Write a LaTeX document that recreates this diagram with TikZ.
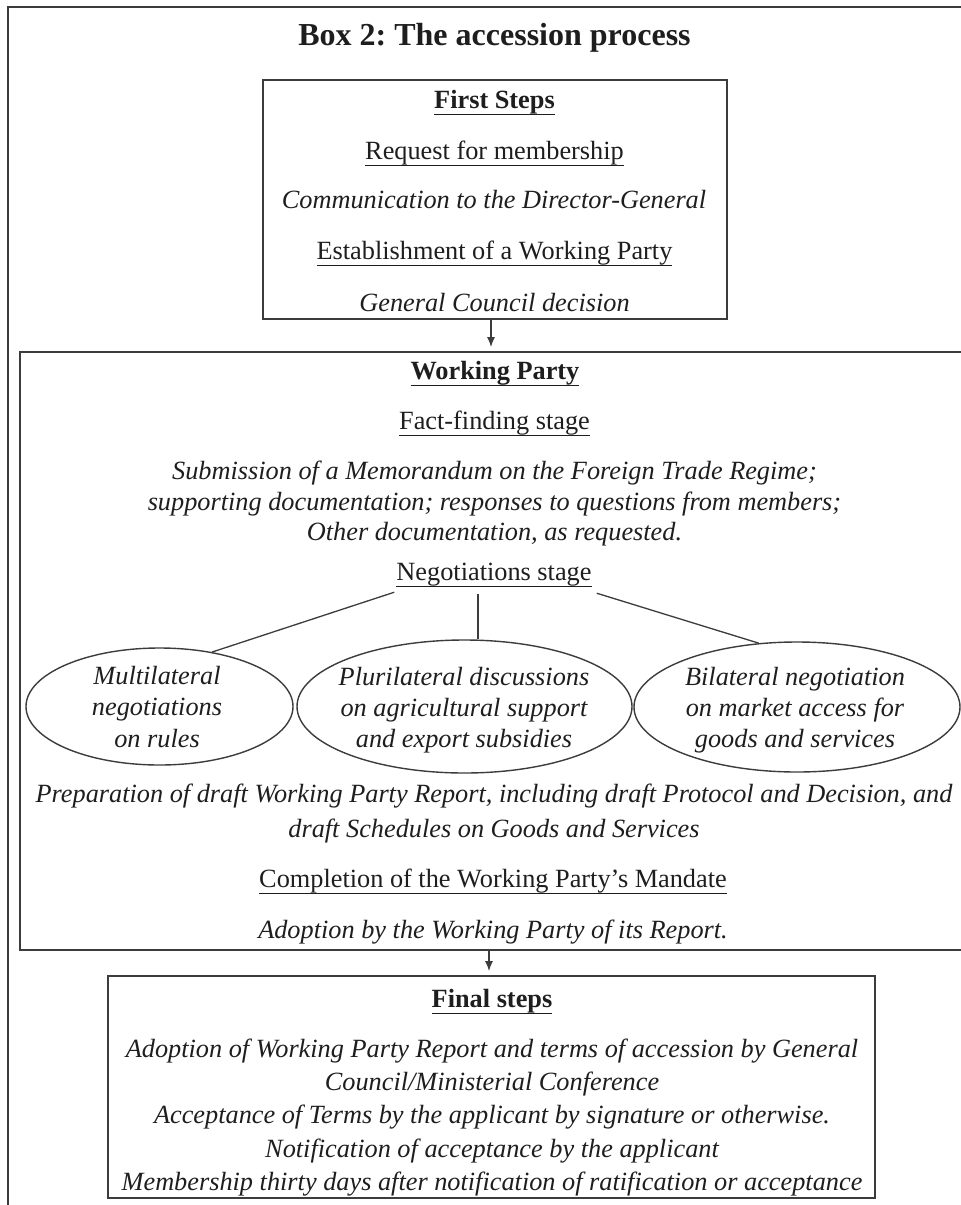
\documentclass[tikz,border=0pt]{standalone}
\usepackage{fontspec}
\setmainfont{Liberation Serif}
\usetikzlibrary{shapes.geometric,arrows.meta}
\frenchspacing
\newcommand\myul[1]{\setbox0=\hbox{#1}\rlap{\rule[-7pt]{\wd0}{1.3pt}}\box0}
\definecolor{txtc}{HTML}{1E1E1E}
\definecolor{linec}{HTML}{3C3C3C}
\tikzset{
  boxline/.style={draw=linec, line width=1.8pt, rectangle, inner sep=0pt},
  ell/.style={draw=linec, line width=1.4pt, ellipse, inner sep=0pt},
  tl/.style={anchor=base, inner sep=0pt, text=txtc, font=\fontsize{26.3}{31}\selectfont},
  it/.style={tl, font=\fontsize{26.3}{31}\selectfont\itshape},
  bf/.style={tl, font=\fontsize{26.3}{31}\selectfont\bfseries},
  ttl/.style={tl, font=\fontsize{32}{36}\selectfont\bfseries},
  conn/.style={draw=linec, line width=1.3pt},
  arr/.style={draw=linec, line width=1.4pt, -{Latex[length=10pt,width=8pt]}, shorten >=4pt}
}
\begin{document}
\begin{tikzpicture}[x=1pt,y=-1pt]
\clip (0,0) rectangle (961,1205);
\fill[white] (0,0) rectangle (961,1205);
% outer frame
\node[boxline, minimum width=1000pt, minimum height=1250pt] (frame) at (508,632) {};
% title
\node[ttl] (title) at (494.5,45) {Box 2: The accession process};
% first steps box
\node[boxline, minimum width=464pt, minimum height=239pt] (fs) at (495,199.5) {};
\node[bf] (fs1) at (494.5,108) {\myul{First Steps}};
\node[tl] (fs2) at (494.5,159) {\myul{Request for membership}};
\node[it] (fs3) at (494,208) {Communication to the Director-General};
\node[tl] (fs4) at (494.5,259) {\myul{Establishment of a Working Party}};
\node[it] (fs5) at (494.5,311) {General Council decision};
% working party box
\node[boxline, minimum width=980pt, minimum height=598pt] (wp) at (510,651) {};
\node[bf] (wp1) at (495,379) {\myul{Working Party}};
\node[tl] (wp2) at (494.5,429) {\myul{Fact-finding stage}};
\node[it] (wp3) at (494.5,479) {Submission of a Memorandum on the Foreign Trade Regime;};
\node[it] (wp4) at (494.5,510) {supporting documentation; responses to questions from members;};
\node[it] (wp5) at (494.5,540) {Other documentation, as requested.};
\node[tl] (neg) at (494,580) {\myul{Negotiations stage}};
% ellipses
\node[ell, minimum width=267pt, minimum height=117pt] (e1) at (159.5,706.5) {};
\node[ell, minimum width=335pt, minimum height=133pt] (e2) at (464.5,706.5) {};
\node[ell, minimum width=326pt, minimum height=130pt] (e3) at (797,707) {};
\node[it] (e1a) at (157,684) {Multilateral};
\node[it] (e1b) at (157,715) {negotiations};
\node[it] (e1c) at (157,747) {on rules};
\node[it] (e2a) at (464,685) {Plurilateral discussions};
\node[it] (e2b) at (464,716) {on agricultural support};
\node[it] (e2c) at (464,747) {and export subsidies};
\node[it] (e3a) at (795,685) {Bilateral negotiation};
\node[it] (e3b) at (795,716) {on market access for};
\node[it] (e3c) at (795,747) {goods and services};
% connectors from negotiations stage
\draw[conn] ([xshift=-2pt,yshift=-5pt]neg.south west) -- (e1.46);
\draw[conn] ([xshift=5pt,yshift=-6pt]neg.south east) -- (e3.121);
\draw[conn] ([xshift=-16pt,yshift=-7pt]neg.south) coordinate (ms) -- (ms |- e2.north);
\node[it] (wp6) at (494,802) {Preparation of draft Working Party Report, including draft Protocol and Decision, and};
\node[it] (wp7) at (494,837) {draft Schedules on Goods and Services};
\node[tl] (wp8) at (493,887) {\myul{Completion of the Working Party's Mandate}};
\node[it] (wp9) at (493,938) {Adoption by the Working Party of its Report.};
% final steps box
\node[boxline, minimum width=767pt, minimum height=222pt] (fin) at (491.5,1087) {};
\node[bf] (fin1) at (492,1007) {\myul{Final steps}};
\node[it] (fin2) at (492,1057) {Adoption of Working Party Report and terms of accession by General};
\node[it] (fin3) at (492,1090) {Council/Ministerial Conference};
\node[it] (fin4) at (492,1123) {Acceptance of Terms by the applicant by signature or otherwise.};
\node[it] (fin5) at (492,1157) {Notification of acceptance by the applicant};
\node[it] (fin6) at (492,1190) {Membership thirty days after notification of ratification or acceptance};
% arrows
\draw[arr] ([xshift=-4pt]fs.south) -- ([xshift=-4pt]fs.south |- wp.north);
\draw[arr] (wp.south -| fin.north) ++(-2.5,0) coordinate (a2) -- (a2 |- fin.north);
\end{tikzpicture}
\end{document}
